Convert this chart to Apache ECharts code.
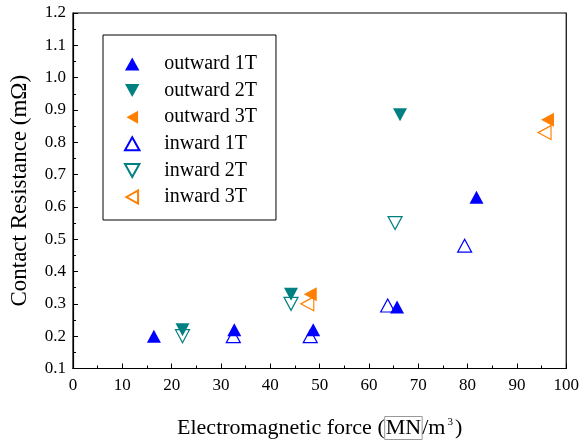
<!DOCTYPE html>
<html>
<head>
<meta charset="utf-8">
<script src="https://cdn.jsdelivr.net/npm/echarts@6/dist/echarts.min.js"></script>
<style>
  html, body { margin: 0; padding: 0; background: #fff; }
  #chart { width: 582px; height: 445px; }
</style>
</head>
<body>
<div id="chart"></div>
<script>
// Electromagnetic force (MN/m^3) vs contact resistance (mΩ)
const outward1T = [[16.4, 0.20], [32.7, 0.22], [48.7, 0.22], [65.7, 0.29], [81.8, 0.63]];
const outward2T = [[22.2, 0.22], [44.2, 0.33], [66.3, 0.885]];
const outward3T = [[48.1, 0.33], [96.2, 0.87]];
const inward1T = [[32.5, 0.20], [48.1, 0.20], [63.8, 0.295], [79.4, 0.48]];
const inward2T = [[22.2, 0.20], [44.2, 0.30], [65.3, 0.55]];
const inward3T = [[47.5, 0.30], [95.6, 0.83]];

const seriesNames = ['outward 1T', 'outward 2T', 'outward 3T', 'inward 1T', 'inward 2T', 'inward 3T'];
const xTicks = { min: 0, max: 100, interval: 10 };
const yTicks = { min: 0.1, max: 1.2, interval: 0.1 };

const BLUE = '#0000ff', TEAL = '#008080', ORANGE = '#ff8000';
const UP = 'path://M5,0 L10,9 L0,9 Z';
const DOWN = 'path://M0,0 L10,0 L5,9 Z';
const LEFT = 'path://M0,5 L9,0 L9,10 Z';
const FONT = '"Liberation Serif", "Times New Roman", serif';

function series(name, data, symbol, color, filled, size) {
  return {
    name, type: 'scatter', data, symbol,
    symbolSize: size,
    itemStyle: filled
      ? { color: color, borderWidth: 0, opacity: 1 }
      : { color: '#ffffff', borderColor: color, borderWidth: 1.2, opacity: 1 },
    z: filled ? 3 : 2
  };
}

const chart = echarts.init(document.getElementById('chart'), null, { renderer: 'canvas' });
chart.setOption({
  animation: false,
  backgroundColor: '#fff',
  grid: { left: 72, right: 15, top: 13, bottom: 76, show: true, borderColor: '#000', borderWidth: 1.2, backgroundColor: 'transparent' },
  legend: {
    orient: 'vertical', left: 103, top: 35,
    padding: [19, 19, 13, 21],
    itemGap: 6.6, itemWidth: 44, itemHeight: 13,
    symbolKeepAspect: true,
    borderColor: '#000', borderWidth: 1, backgroundColor: '#fff',
    textStyle: { fontFamily: FONT, fontSize: 20, color: '#000', padding: [0, 0, 0, 5] },
    data: seriesNames
  },
  xAxis: {
    type: 'value', min: xTicks.min, max: xTicks.max, interval: xTicks.interval,
    axisLine: { onZero: false, lineStyle: { color: '#000', width: 1.2 } },
    axisTick: { inside: true, length: 5, lineStyle: { color: '#000' } },
    minorTick: { show: true, splitNumber: 2, length: 3, lineStyle: { color: '#000' } },
    splitLine: { show: false },
    axisLabel: { margin: 9, fontFamily: FONT, fontSize: 17, color: '#000' },
    name: '{a|Electromagnetic force (}{box|MN}{a|/m}{sup|3}{a|)}',
    nameLocation: 'middle', nameGap: 48,
    nameTextStyle: {
      rich: {
        a: { fontFamily: FONT, fontSize: 22, color: '#000' },
        box: { fontFamily: FONT, fontSize: 22, color: '#000', borderColor: '#999', borderWidth: 1, padding: [1, 1, 0, 1] },
        sup: { fontFamily: FONT, fontSize: 11, color: '#000', verticalAlign: 'top', padding: [0, 2, 12, 2] }
      }
    }
  },
  yAxis: {
    type: 'value', min: yTicks.min, max: yTicks.max, interval: yTicks.interval,
    axisLine: { onZero: false, lineStyle: { color: '#000', width: 1.2 } },
    axisTick: { inside: true, length: 5, lineStyle: { color: '#000' } },
    minorTick: { show: true, splitNumber: 2, length: 3, lineStyle: { color: '#000' } },
    splitLine: { show: false },
    axisLabel: { margin: 7, fontFamily: FONT, fontSize: 17, color: '#000', formatter: v => v.toFixed(1) },
    name: 'Contact Resistance (mΩ)',
    nameLocation: 'middle', nameGap: 42,
    nameTextStyle: { fontFamily: FONT, fontSize: 23, color: '#000' }
  },
  series: [
    series(seriesNames[0], outward1T, UP, BLUE, true, [14, 13]),
    series(seriesNames[1], outward2T, DOWN, TEAL, true, [14, 13]),
    series(seriesNames[2], outward3T, LEFT, ORANGE, true, [13, 14]),
    series(seriesNames[3], inward1T, UP, BLUE, false, [14, 13]),
    series(seriesNames[4], inward2T, DOWN, TEAL, false, [14, 13]),
    series(seriesNames[5], inward3T, LEFT, ORANGE, false, [13, 14])
  ]
});
</script>
</body>
</html>
